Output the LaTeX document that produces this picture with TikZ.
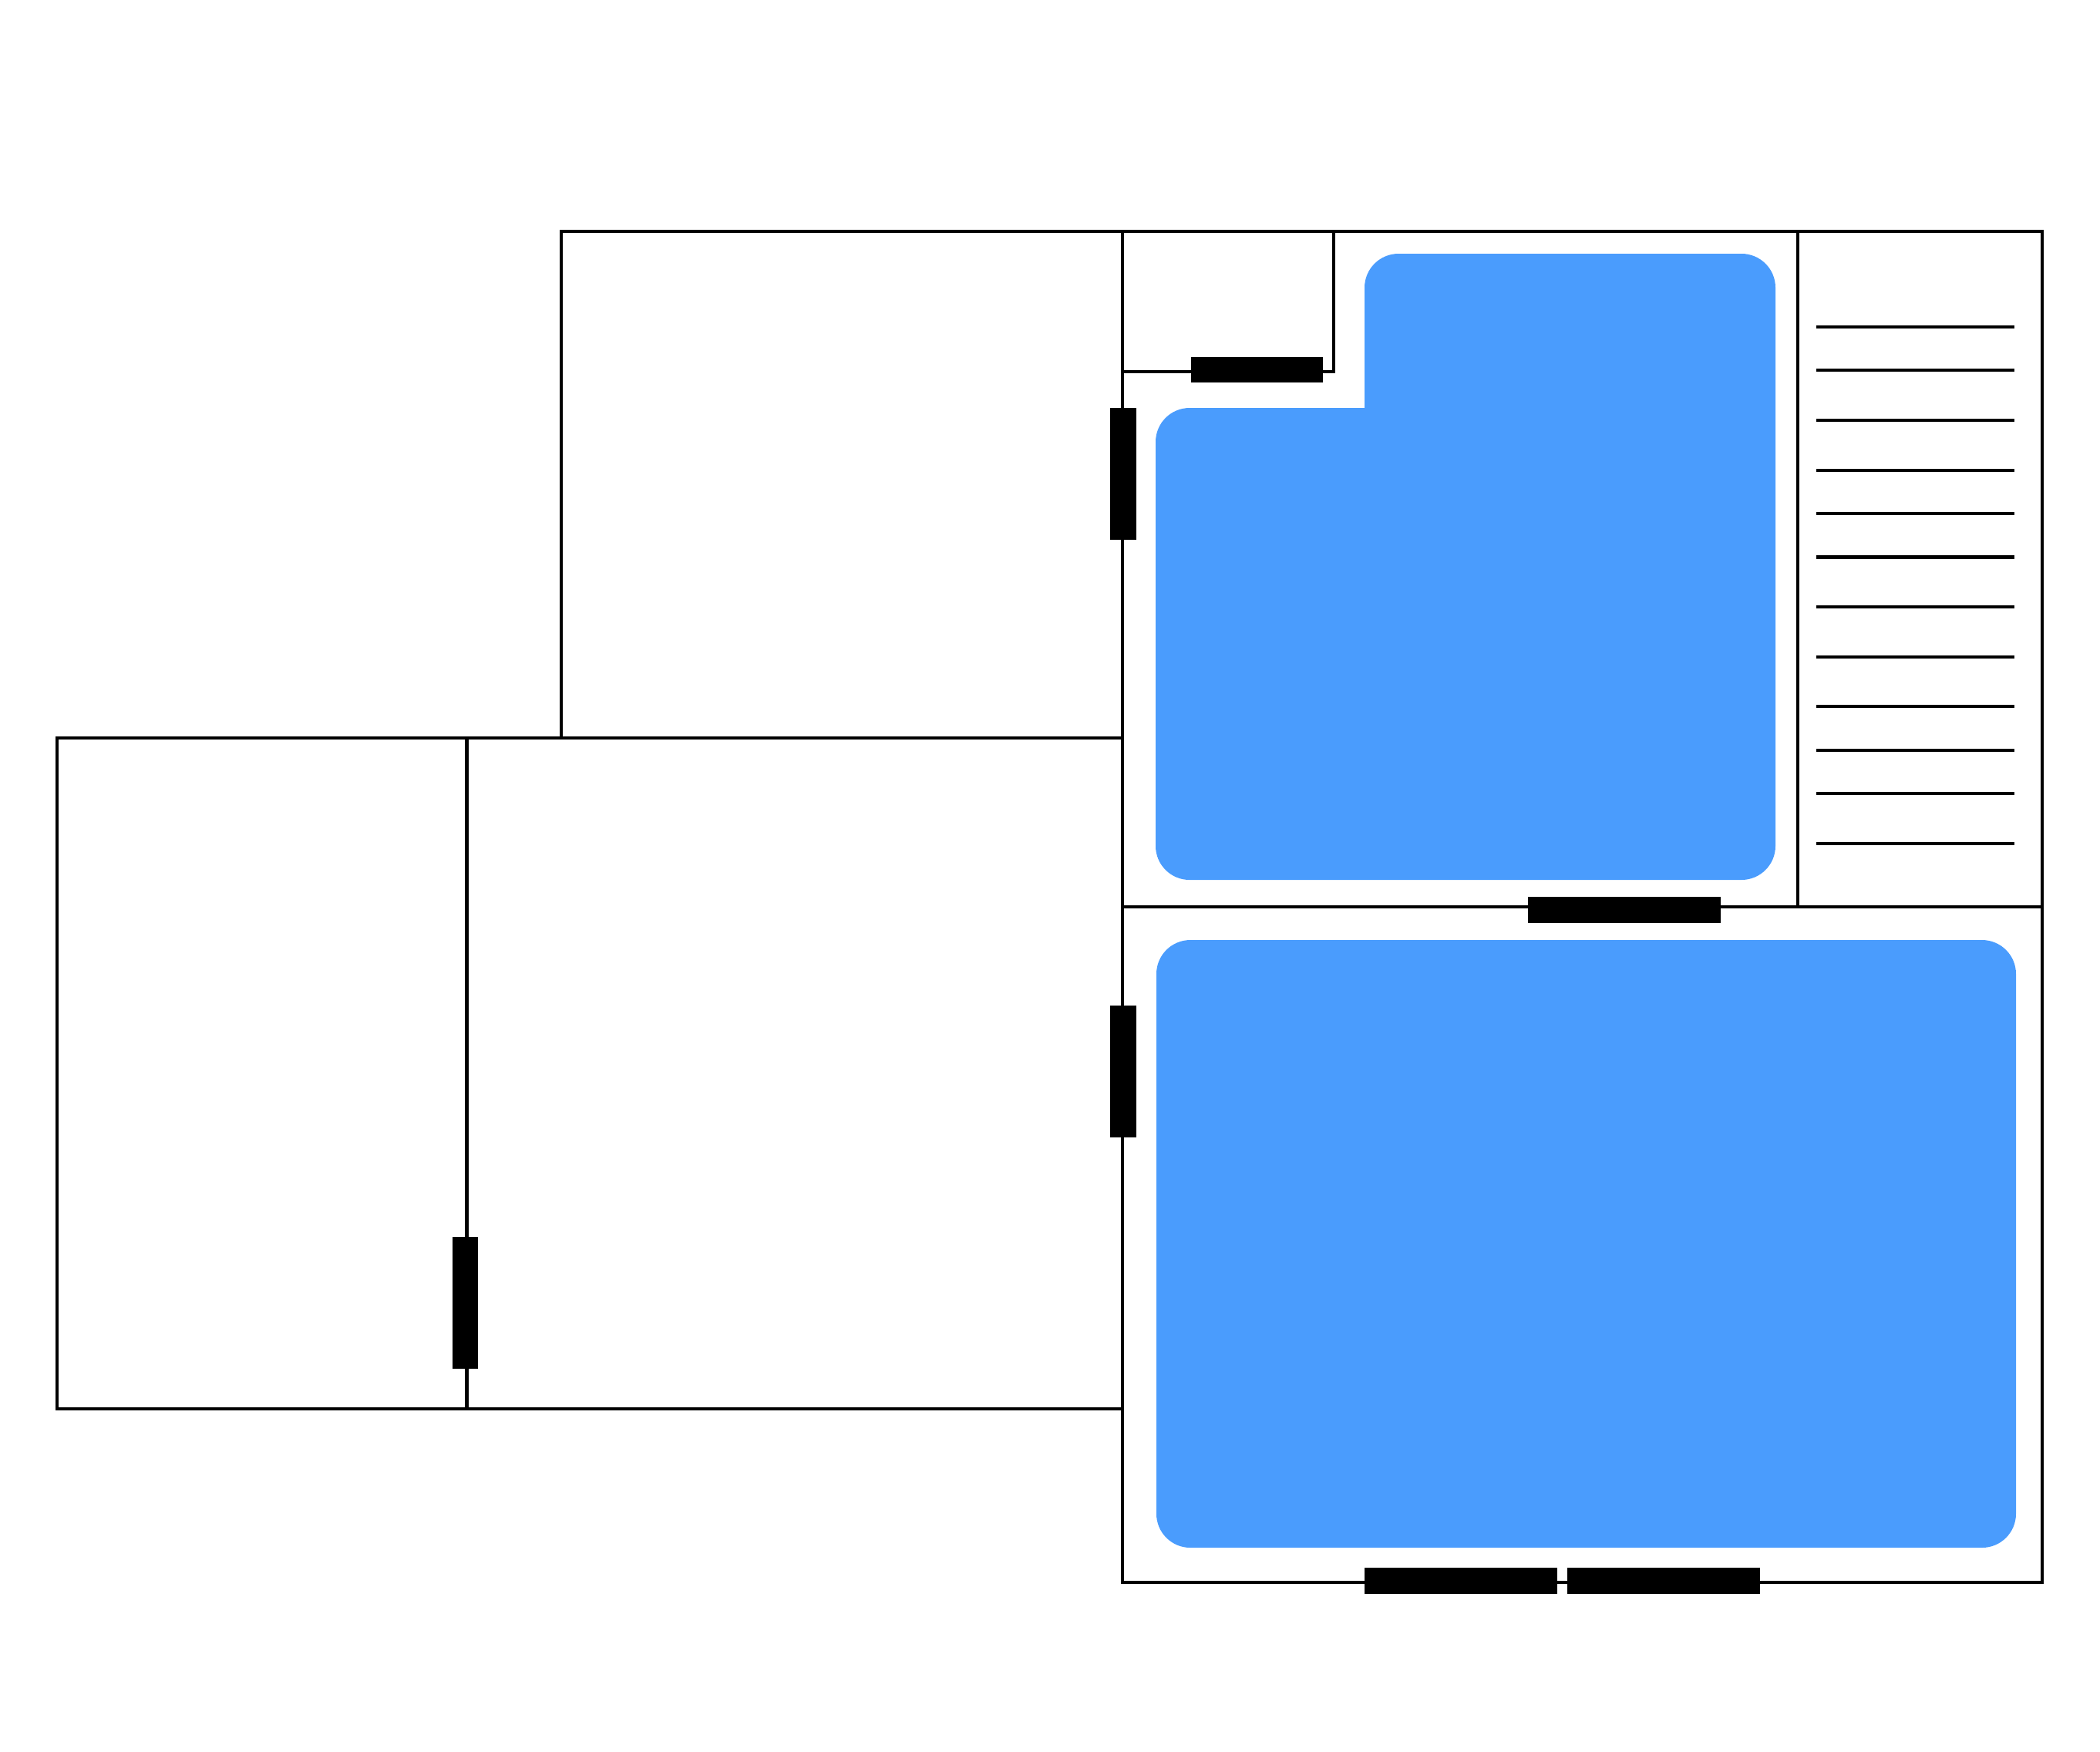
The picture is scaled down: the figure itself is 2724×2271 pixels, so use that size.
\documentclass[tikz,border=0pt]{standalone}
\usepackage{xcolor}
\usetikzlibrary{positioning}

\definecolor{zoneblue}{HTML}{4A9CFD}

\tikzset{
  wall/.style={line width=0.043cm, black, line join=miter},
  door/.style={fill=black},
  zone/.style={fill=zoneblue, rounded corners=0.44cm},
}

\begin{document}
\begin{tikzpicture}[x=0.01cm, y=-0.01cm]

  \useasboundingbox (0, 0) rectangle (2724, 2271);

%%%%%%%%%%%% Blue zones
  \fill[zone] (1499, 529) rectangle (2303, 1141)
              (1770, 329) rectangle (2303, 1141);
  \fill[zone] (1500, 1219) rectangle (2615, 2007);

%%%%%%%%%%%% Walls
  \draw[wall] (728, 957) rectangle (1456, 300);
  \draw[wall] (1456, 300) rectangle (2649, 1176);
  \draw[wall] (1456, 1176) rectangle (2649, 2052);
  \draw[wall] (74, 957) rectangle (1456, 1827);
  \draw[wall] (605.5, 957) -- (605.5, 1827);
  \draw[wall] (2332, 300) -- (2332, 1176);
  \draw[wall] (1456, 482) -- (1730, 482) -- (1730, 300);

%%%%%%%%%%%% Shelves
  \foreach \y in {424,480,545,610,666,722.5,787,852,916,973,1029,1094} {
    \draw[wall] (2356, \y) -- +(257, 0);
  }

%%%%%%%%%%%% Doors
  \fill[door] (1545, 463) rectangle (1716, 496);
  \fill[door] (1440, 529) rectangle (1474, 700);
  \fill[door] (1440, 1304) rectangle (1474, 1475);
  \fill[door] (586.5, 1604) rectangle (620, 1775);
  \fill[door] (1982, 1163) rectangle (2232, 1197);
  \fill[door] (1770, 2033) rectangle (2020, 2067);
  \fill[door] (2033, 2033) rectangle (2283, 2067);

\end{tikzpicture}
\end{document}
